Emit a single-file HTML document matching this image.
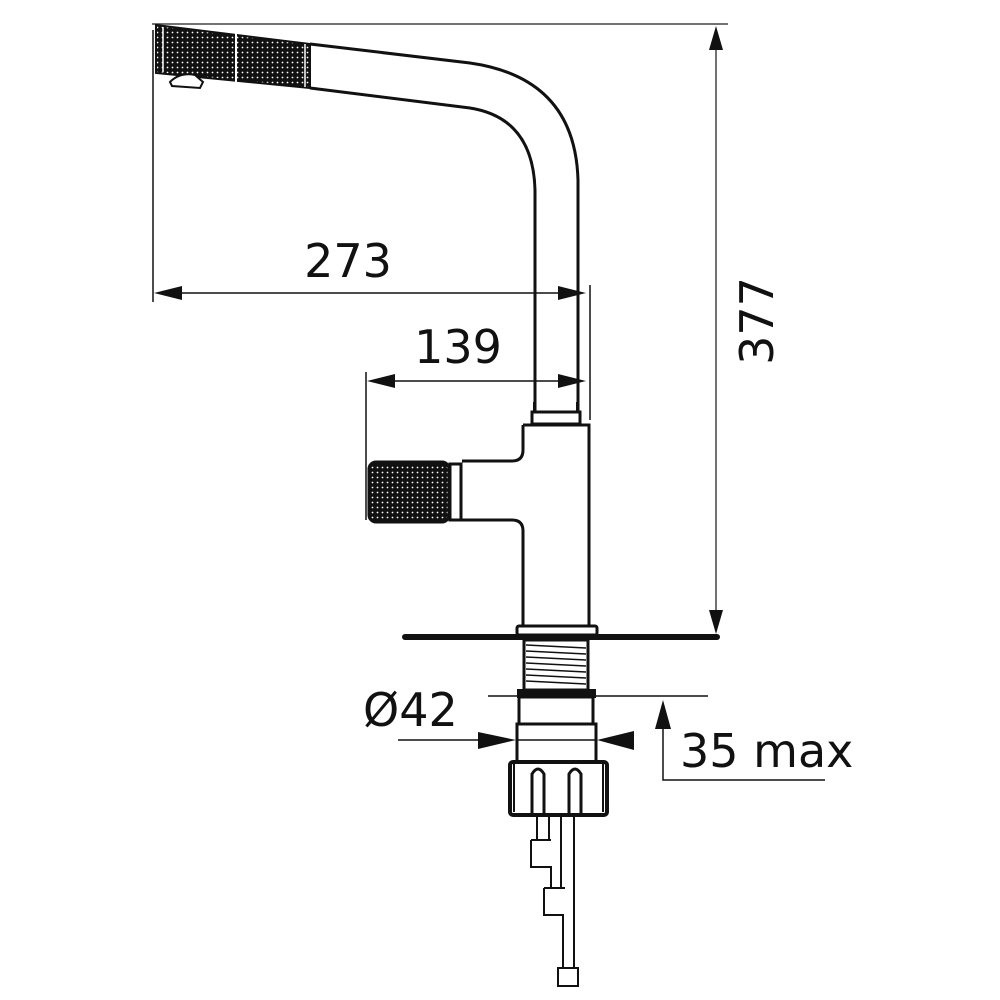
<!DOCTYPE html>
<html><head><meta charset="utf-8"><style>
html,body{margin:0;padding:0;background:#fff;}
svg{display:block;}
text{font-family:"DejaVu Sans","Liberation Sans",sans-serif;fill:#111;}
</style></head><body>
<svg width="1000" height="1000" viewBox="0 0 1000 1000" xmlns="http://www.w3.org/2000/svg">
<defs>
<pattern id="dots" width="5" height="5" patternUnits="userSpaceOnUse">
<rect width="5" height="5" fill="#111"/>
<circle cx="2.5" cy="2.5" r="0.9" fill="#fff"/>
</pattern>
</defs>
<g stroke="#111" fill="none">
<line x1="152" y1="24" x2="728" y2="24" stroke-width="1.5" stroke="#444"/>
<line x1="716" y1="30" x2="716" y2="630" stroke-width="1.5" stroke="#444"/>
<line x1="153" y1="30" x2="153" y2="302" stroke-width="1.5"/>
<line x1="158" y1="293" x2="582" y2="293" stroke-width="1.5"/>
<line x1="590" y1="285" x2="590" y2="420" stroke-width="1.5"/>
<line x1="366" y1="372" x2="366" y2="520" stroke-width="1.5"/>
<line x1="372" y1="381" x2="582" y2="381" stroke-width="1.5"/>

<path d="M310 44 L470 63 Q575 78 578 180 L578 412" stroke-width="3"/>
<path d="M310 88 L470 108 Q533 118 535 190 L535 412" stroke-width="3"/>
<path d="M156 25 L310 44 L310 88 L156 73 Z" fill="url(#dots)" stroke-width="2"/>
<line x1="236" y1="33" x2="236" y2="82" stroke="#fff" stroke-width="2"/>
<line x1="163" y1="27" x2="163" y2="72" stroke="#fff" stroke-width="1.5"/>
<line x1="305" y1="44" x2="305" y2="87" stroke="#fff" stroke-width="1.5"/>
<path d="M170 82 Q180 72 195 75 L203 82 L200 88 L172 86 Z" fill="#fff" stroke-width="2"/>

<path d="M534 412 L534 402 M577 412 L577 402" stroke-width="2"/>
<rect x="532" y="412" width="48" height="12" stroke-width="3" fill="#fff"/>
<path d="M523 425 L589 425 L589 626 M523 425 L523 450 Q523 461 512 461 L462 461 M462 520 L512 520 Q523 520 523 531 L523 626" stroke-width="3"/>
<rect x="369" y="462" width="80" height="60" rx="7" fill="url(#dots)" stroke-width="3"/>
<rect x="450" y="464" width="11" height="56" fill="#fff" stroke-width="3"/>

<rect x="517" y="626" width="80" height="9" rx="2" fill="#fff" stroke-width="3"/>
<line x1="405" y1="637" x2="717" y2="637" stroke-width="6" stroke-linecap="round"/>
<rect x="524" y="640" width="64" height="50" fill="#fff" stroke-width="3"/>
<g stroke-width="1.5">
<path d="M526 645 L586 648 M526 651 L586 654 M526 657 L586 660 M526 663 L586 666 M526 669 L586 672 M526 675 L586 678 M526 681 L586 684"/>
</g>
<rect x="518" y="690" width="77" height="7" fill="#111" stroke-width="2"/>
<rect x="519" y="697" width="74" height="27" fill="#fff" stroke-width="3"/>
<rect x="517" y="724" width="79" height="38" fill="#fff" stroke-width="3"/>
<rect x="510" y="762" width="97" height="53" rx="3" fill="#fff" stroke-width="4"/>
<path d="M514 762 L514 812 M603 762 L603 812" stroke-width="2"/>
<path d="M532 814 L532 774 Q538 764 544 774 L544 814" stroke-width="3"/>
<path d="M569 814 L569 774 Q575 764 581 774 L581 814" stroke-width="3"/>
<g stroke-width="2">
<path d="M537 815 L537 840 M549 815 L549 840"/>
<path d="M531 840 L551 840 M531 840 L531 867 L551 867 L551 888"/>
<path d="M561 815 L561 888"/>
<path d="M544 888 L565 888 M544 888 L544 915 L563 915 L563 968"/>
<path d="M574 815 L574 968"/>
<rect x="558" y="968" width="20" height="18"/>
</g>

<line x1="488" y1="696" x2="708" y2="696" stroke-width="1.5"/>
<line x1="398" y1="740" x2="510" y2="740" stroke-width="1.5"/>
<line x1="517" y1="740" x2="597" y2="740" stroke-width="1.5"/>
<path d="M663 720 L663 780 L825 780" stroke-width="1.5"/>
</g>
<g fill="#111">
<polygon points="716,26 709,50 723,50"/>
<polygon points="716,634 709,610 723,610"/>
<polygon points="154,293 182,286 182,300"/>
<polygon points="586,293 558,286 558,300"/>
<polygon points="367,381 395,374 395,388"/>
<polygon points="586,381 558,374 558,388"/>
<polygon points="516,740 478,732 478,749"/>
<polygon points="597,740 634,731 634,750"/>
<polygon points="663,700 655,729 671,729"/>
</g>
<text x="348" y="277" font-size="46" text-anchor="middle">273</text>
<text x="458" y="363" font-size="46" text-anchor="middle">139</text>
<text transform="translate(773,321) rotate(-90)" font-size="46" text-anchor="middle">377</text>
<text x="363" y="726" font-size="46">Ø42</text>
<text x="680" y="767" font-size="46">35 max</text>
</svg>
</body></html>
